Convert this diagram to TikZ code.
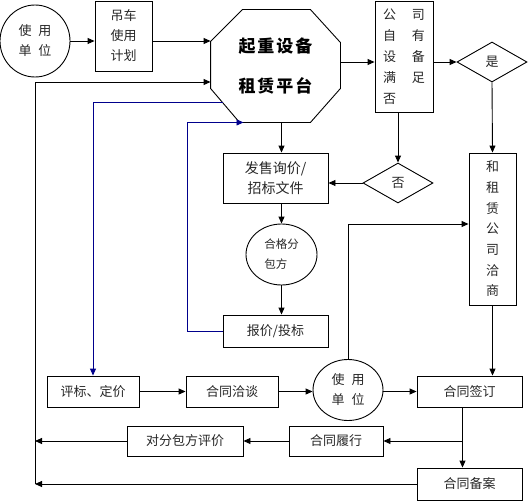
\documentclass[tikz,border=0pt]{standalone}
\usepackage{fontspec}
\setmainfont{Noto Sans CJK SC}
\usepackage{tikz}
\usetikzlibrary{shapes.geometric}
\usetikzlibrary{calc}
\usetikzlibrary{arrows.meta}

\begin{document}
\begin{tikzpicture}[x=1pt,y=-1pt,line width=0.9pt,>={Triangle[length=7pt,width=6pt]},
	box/.style={rectangle, draw, inner sep=1pt, text=black!85, font=\fontsize{13}{20}\selectfont, align=center},
	oval/.style={ellipse, draw, inner sep=0pt, text=black!85, font=\fontsize{13}{20}\selectfont, align=center},
	decision/.style={diamond, draw, inner sep=0pt, minimum width=70pt, minimum height=40pt, text=black!85, font=\fontsize{13}{20}\selectfont},
	back/.style={blue!55!black}]
			\useasboundingbox (0,0) rectangle (529,500);
			% Nodes
			\node [oval, minimum width=70pt, minimum height=72pt] (1) at (35,41) {使\hspace{7pt}用\\单\hspace{7pt}位};
			\node [box, minimum width=57pt, minimum height=70pt] (2) at (123.5,36) {吊车\\使用\\计划};
			\node [rectangle, inner sep=0pt, minimum width=129pt, minimum height=112pt, align=center, font=\fontsize{17}{40}\selectfont\bfseries] (3) at (275.5,66) {起\hspace{2pt}重\hspace{2pt}设\hspace{2pt}备\\租\hspace{2pt}赁\hspace{2pt}平\hspace{2pt}台};
			% octagon outline of the platform
			\draw ($(3.north west)+(0,32)$) -- ($(3.north west)+(32,0)$) -- ($(3.north east)+(-30,0)$) -- ($(3.north east)+(0,33)$)
			-- ($(3.south east)+(0,-34)$) -- ($(3.south east)+(-30,0)$) -- ($(3.south west)+(29,0)$) -- ($(3.south west)+(0,-34)$) -- cycle;
			\node [box, minimum width=58pt, minimum height=111pt, font=\fontsize{13}{21}\selectfont, align=left] (4) at (404,56.5) {公\hspace{16pt}司\\自\hspace{16pt}有\\设\hspace{16pt}备\\满\hspace{16pt}足\\否};
			\node [decision] (5) at (492,62) {是};
			\node [decision] (6) at (398,183) {否};
			\node [box, minimum width=105pt, minimum height=50pt, font=\fontsize{14}{20}\selectfont] (7) at (275.5,178) {发售询价/\\招标文件};
			\node [oval, minimum width=71pt, minimum height=61pt, font=\fontsize{11.5}{20}\selectfont, align=left] (8) at (281.5,254.5) {合格分\\包方};
			\node [box, minimum width=105pt, minimum height=32pt] (9) at (275.5,331) {报价/投标};
			\node [box, minimum width=47pt, minimum height=152pt, font=\fontsize{13}{20.7}\selectfont] (10) at (492.5,229) {和\\租\\赁\\公\\司\\洽\\商};
			\node [box, minimum width=92pt, minimum height=31pt] (11) at (93,391.5) {评标、定价};
			\node [box, minimum width=92pt, minimum height=31pt] (12) at (232,391.5) {合同洽谈};
			\node [oval, minimum width=70pt, minimum height=61pt] (13) at (348,390) {使\hspace{7pt}用\\单\hspace{7pt}位};
			\node [box, minimum width=105pt, minimum height=31pt] (14) at (469.5,391.5) {合同签订};
			\node [box, minimum width=94pt, minimum height=30pt] (15) at (336,441) {合同履行};
			\node [box, minimum width=116pt, minimum height=30pt] (16) at (185,441) {对分包方评价};
			\node [box, minimum width=105pt, minimum height=32pt] (17) at (469.5,484) {合同备案};
			
			% Connectors
			\draw[->] (1.east) -- (1.east -| 2.west);
			\draw[->] (2.east |- 1.east) -- (3.west |- 1.east);
			\draw[->] (3.east |- 5) -- (4.west |- 5);
			\draw[->] (4.east |- 5) -- (5.west);
			\draw[->] (5.south) -- (10.north);
			\draw[->] (4.south -| 6) -- (6.north);
			\draw[->] (6.west) -- (6.west -| 7.east);
			\draw[->] (3.south -| 8) -- (7.north -| 8);
			\draw[->] (7.south -| 8) -- (8.north);
			\draw[->] (8.south) -- (9.north -| 8);
			\draw[->, back] (9.west) -- ([xshift=-35pt]9.west) |- ([xshift=-32pt]3.south);
			\draw[->, back] ($(3.south west)+(12,-20)$) -| (11.north);
			\draw[->] (13.north) |- ([yshift=5pt]10.west);
			\draw[->] (11.east) -- (12.west);
			\draw[->] (12.east) -- (12.east -| 13.west);
			\draw[->] (13.east |- 14.west) -- (14.west);
			\draw[->] (10.south) -- (10.south |- 14.north);
			\draw[->] ([xshift=-7pt]14.south) -- ([xshift=-7pt]17.north);
			\draw[->] ([xshift=-7pt]14.south) |- (15.east);
			\draw[->] (15.west) -- (16.east);
			\draw[->] (16.west) -- (16.west -| 1);
			\draw[->] (17.west) -- (17.west -| 1);
			\draw[->] (17.west -| 1) |- ([yshift=-16pt]3.west);
			
		\end{tikzpicture}
\end{document}
